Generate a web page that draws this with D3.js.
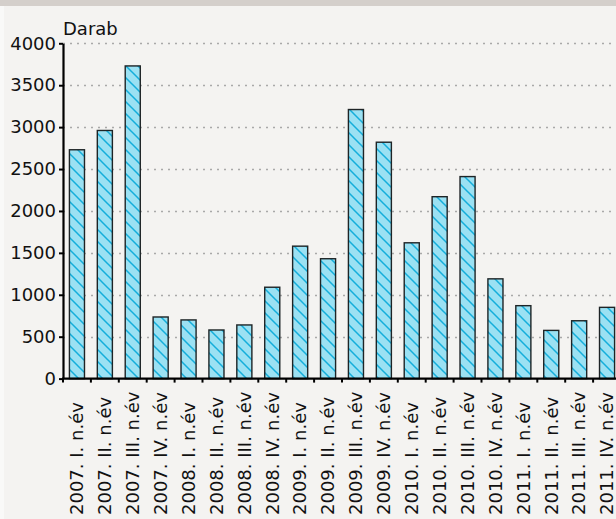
<!DOCTYPE html>
<html>
<head>
<meta charset="utf-8">
<script src="https://cdn.jsdelivr.net/npm/d3@7"></script>
<style>
  html, body { margin: 0; padding: 0; background: #f4f3f1; }
  svg { display: block; }
  text { font-family: 'DejaVu Sans', sans-serif; fill: #111; font-size: 18px; }
</style>
</head>
<body>
<div id="chart"></div>
<script>
// quarters (x categories)
const categories = [
  "2007. I. n.év", "2007. II. n.év", "2007. III. n.év", "2007. IV. n.év",
  "2008. I. n.év", "2008. II. n.év", "2008. III. n.év", "2008. IV. n.év",
  "2009. I. n.év", "2009. II. n.év", "2009. III. n.év", "2009. IV. n.év",
  "2010. I. n.év", "2010. II. n.év", "2010. III. n.év", "2010. IV. n.év",
  "2011. I. n.év", "2011. II. n.év", "2011. III. n.év", "2011. IV. n.év"
];
// counts (darab)
const values = [
  2730, 2960, 3730, 735,
  700, 580, 640, 1090,
  1580, 1430, 3210, 2820,
  1620, 2170, 2410, 1190,
  870, 575, 690, 850
];
const yTicks = [0, 500, 1000, 1500, 2000, 2500, 3000, 3500, 4000];
const yTitle = "Darab";

const config = {
  width: 616, height: 519,
  left: 63, right: 621, top: 43.3, bottom: 378.6,
  labelBase: 515,
};

const svg = d3.select('#chart')
  .append('svg')
  .attr('width', config.width)
  .attr('height', config.height);

// backdrop
svg.append('rect').attr('width', config.width).attr('height', config.height).attr('fill', '#f4f3f1');
svg.append('rect').attr('width', config.width).attr('height', 6).attr('fill', '#d4cfcb');
svg.append('rect').attr('y', 6).attr('width', 4).attr('height', config.height - 6).attr('fill', '#f9f9f8');

// hatch pattern for bars
const pat = svg.append('defs').append('pattern')
  .attr('id', 'hatch')
  .attr('patternUnits', 'userSpaceOnUse')
  .attr('width', 12)
  .attr('height', 12);
pat.append('rect').attr('width', 12).attr('height', 12).attr('fill', '#9be1f3');
pat.append('path')
  .attr('d', 'M-3,-3 L15,15 M-3,9 L3,15 M9,-3 L15,3')
  .attr('stroke', '#14aedb')
  .attr('stroke-width', 1.5);

const x = d3.scaleBand()
  .domain(categories)
  .range([config.left, config.right])
  .paddingInner(0.46)
  .paddingOuter(0.23);

const y = d3.scaleLinear()
  .domain([0, 4000])
  .range([config.bottom, config.top]);

// grid lines
svg.append('g')
  .selectAll('line')
  .data(yTicks.filter(d => d > 0))
  .join('line')
  .attr('x1', config.left)
  .attr('x2', config.width)
  .attr('y1', d => Math.round(y(d)) + 0.5)
  .attr('y2', d => Math.round(y(d)) + 0.5)
  .attr('stroke', '#a9a9a9')
  .attr('stroke-width', 1.3)
  .attr('stroke-dasharray', '2,5');

// bars
svg.append('g')
  .selectAll('rect')
  .data(values)
  .join('rect')
  .attr('x', (d, i) => x(categories[i]))
  .attr('y', d => y(d))
  .attr('width', x.bandwidth())
  .attr('height', d => config.bottom - y(d))
  .attr('fill', 'url(#hatch)')
  .attr('stroke', '#1e2426')
  .attr('stroke-width', 1.4);

// y axis
const yAxis = svg.append('g')
  .attr('transform', `translate(${config.left},0)`)
  .call(d3.axisLeft(y).tickValues(yTicks).tickFormat(d3.format('d'))
    .tickSize(4).tickSizeOuter(0).tickPadding(3));
yAxis.attr('font-size', null).attr('font-family', null);
yAxis.select('.domain').attr('stroke', '#000').attr('stroke-width', 2.2);
yAxis.selectAll('.tick line').attr('stroke', '#000').attr('stroke-width', 2);
yAxis.selectAll('.tick text').attr('fill', '#111');

// x axis line and ticks between bands
const step = x.step();
const edges = categories.map(c => x(c) - step * x.paddingInner() / 2);
edges.push(edges[edges.length - 1] + step);

svg.append('line')
  .attr('x1', config.left - 1)
  .attr('x2', config.width)
  .attr('y1', config.bottom)
  .attr('y2', config.bottom)
  .attr('stroke', '#000')
  .attr('stroke-width', 2.2);

svg.append('g')
  .selectAll('line')
  .data(edges)
  .join('line')
  .attr('x1', d => d)
  .attr('x2', d => d)
  .attr('y1', config.bottom)
  .attr('y2', config.bottom + 4)
  .attr('stroke', '#000')
  .attr('stroke-width', 2);

// x labels, rotated, aligned at the bottom
svg.append('g')
  .selectAll('text')
  .data(categories)
  .join('text')
  .attr('transform', d => `translate(${x(d) + x.bandwidth() / 2},${config.labelBase}) rotate(-90)`)
  .attr('text-anchor', 'start')
  .attr('dy', '0.35em')
  .text(d => d);

// y title
svg.append('text')
  .attr('x', config.left)
  .attr('y', 35)
  .text(yTitle);
</script>
</body>
</html>
